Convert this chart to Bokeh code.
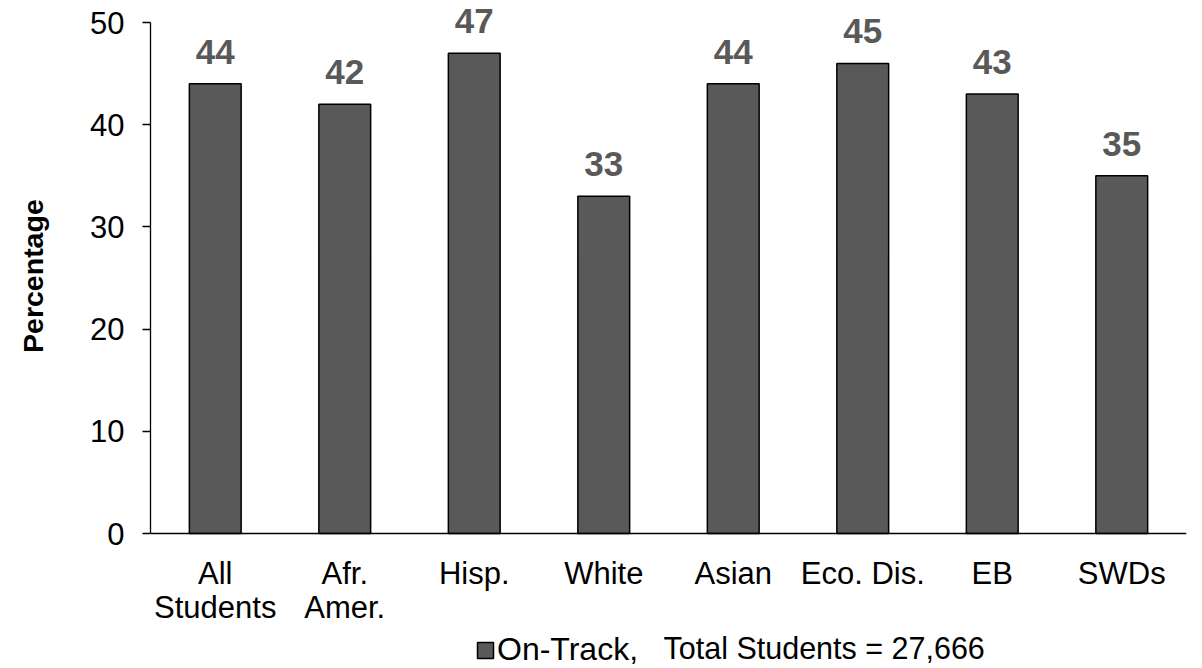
from bokeh.plotting import figure
from bokeh.models import (FactorRange, Range1d, FixedTicker, ColumnDataSource,
                          LabelSet, Label, Legend, LegendItem, Span)
from bokeh.core.properties import value
from bokeh.embed import file_html
from bokeh.resources import INLINE

# ---- data ----
categories = ["All Students", "Afr. Amer.", "Hisp.", "White", "Asian", "Eco. Dis.", "EB", "SWDs"]
label_line1 = ["All", "Afr.", "Hisp.", "White", "Asian", "Eco. Dis.", "EB", "SWDs"]
label_line2 = ["Students", "Amer.", "", "", "", "", "", ""]
on_track = [44, 42, 47, 33, 44, 46, 43, 35]
value_labels = ["44", "42", "47", "33", "44", "45", "43", "35"]
y_ticks = [0, 10, 20, 30, 40, 50]
series_name = "On-Track,"
note_text = "Total Students = 27,666"
y_title = "Percentage"

FONT = "Liberation Sans"

# ---- layout (pixels) ----
W, H = 1194, 668
LEFT, RIGHT, TOP = 150, 8, 2
ZERO_PX, FIFTY_PX = 533, 22          # where 0 and 50 sit, from the top
ppu = (ZERO_PX - FIFTY_PX) / 50.0     # pixels per unit
y_end = 50 + (FIFTY_PX - TOP) / ppu
y_start = -(H - ZERO_PX) / ppu
cat_px = (W - LEFT - RIGHT) / len(categories)

src = ColumnDataSource(dict(cat=categories, val=on_track, lab=value_labels,
                            l1=label_line1, l2=label_line2))

p = figure(width=W, height=H, output_backend="svg", toolbar_location=None,
           x_range=FactorRange(*categories, range_padding=0),
           y_range=Range1d(y_start, y_end), x_axis_location=None,
           min_border_left=LEFT, min_border_right=RIGHT, min_border_top=TOP,
           min_border_bottom=0)
p.outline_line_color = None
p.xgrid.visible = False
p.ygrid.visible = False
p.background_fill_color = "white"

bars = p.vbar(x="cat", top="val", width=0.4, source=src,
              fill_color="#595959", line_color="black", line_width=1.5)

# horizontal axis line at zero
p.add_layout(Span(location=0, dimension="width", line_color="black", line_width=1.3))

# y axis (label padded with no-break spaces so it centres on the 0-50 span)
ya = p.yaxis[0]
ya.ticker = FixedTicker(ticks=y_ticks)
ya.bounds = (0, 50)
ya.minor_tick_line_color = None
ya.major_tick_in = 0
ya.major_tick_out = 8
ya.axis_line_color = "black"
ya.axis_line_width = 1.3
ya.major_tick_line_width = 1.3
ya.major_label_text_font = FONT
ya.major_label_text_font_size = "31px"
ya.major_label_text_color = "black"
ya.major_label_standoff = 18
ya.axis_label = "\u00a0" * 15 + y_title
ya.axis_label_text_font = FONT
ya.axis_label_text_font_size = "28.5px"
ya.axis_label_text_font_style = "bold"
ya.axis_label_text_color = "black"
ya.axis_label_standoff = 38

# category labels (two lines)
for col, off in (("l1", -50), ("l2", -84)):
    p.add_layout(LabelSet(x="cat", y=0, text=col, source=src, y_offset=off,
                          text_align="center", text_baseline="alphabetic",
                          text_font=value(FONT), text_font_size="31px",
                          text_color="black"))

# value labels
p.add_layout(LabelSet(x="cat", y="val", text="lab", source=src, y_offset=20,
                      text_align="center", text_baseline="alphabetic",
                      text_font=value(FONT), text_font_size="35px",
                      text_font_style="bold", text_color="#595959"))

# legend
legend = Legend(items=[LegendItem(label=series_name, renderers=[bars])],
                location=(325, 0), orientation="horizontal",
                padding=0, margin=0, border_line_color=None,
                background_fill_alpha=0, glyph_width=20, glyph_height=20,
                label_standoff=2, label_text_font=FONT, label_text_font_size="32px",
                label_text_color="black")
p.add_layout(legend, "center")

note = Label(x=(663 - LEFT) / cat_px, y=-(647 - ZERO_PX) / ppu, text=note_text,
             text_align="left", text_baseline="middle",
             text_font=FONT, text_font_size="30.5px", text_color="black")
p.add_layout(note)

open("out.html", "w").write(file_html(p, INLINE))
